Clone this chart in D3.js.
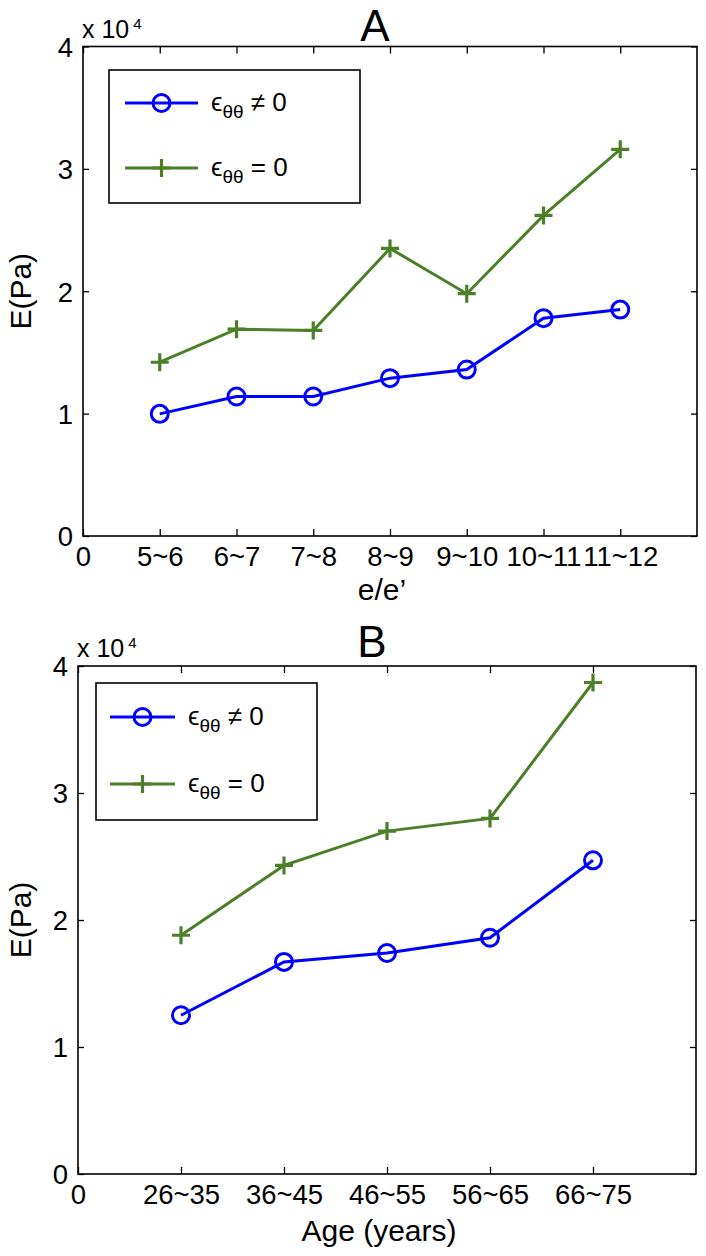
<!DOCTYPE html>
<html><head><meta charset="utf-8">
<script src="https://cdn.jsdelivr.net/npm/d3@7"></script>
<style>body{margin:0;background:#fff}svg text{font-family:"Liberation Sans",Arial,sans-serif;fill:#000}</style>
</head><body>
<svg id="chart" width="706" height="1256"></svg>
<script>
// ---- data (E in Pa) ----
const catsA = ["5~6","6~7","7~8","8~9","9~10","10~11","11~12"];
const nonZeroA = [9980, 11400, 11400, 12900, 13600, 17800, 18500];
const zeroA    = [14200, 16900, 16800, 23500, 19800, 26200, 31600];
const catsB = ["26~35","36~45","46~55","56~65","66~75"];
const nonZeroB = [12500, 16700, 17400, 18600, 24700];
const zeroB    = [18800, 24300, 27000, 28000, 38700];
const yTickVals = [0, 10000, 20000, 30000, 40000];
const seriesNames = ["≠ 0", "= 0"];
const titles = ["A", "B"];
const xLabels = ["e/e\u2019", "Age (years)"];

const BLUE = "#0000ff", GREEN = "#4b7f28";
const svg = d3.select("#chart");
svg.append("rect").attr("width",706).attr("height",1256).attr("fill","#fff");

const panels = [
  {cats: catsA, s1: nonZeroA, s2: zeroA, title: titles[0], xlab: xLabels[0],
   L:83, R:697, T:46.5, B:536, titleY:41, expY:38, xlabY:600,
   leg:{x:109, y:70, w:251, h:133, r1:103, r2:168, l0:125, l1:198, tx:211}},
  {cats: catsB, s1: nonZeroB, s2: zeroB, title: titles[1], xlab: xLabels[1],
   L:78, R:696, T:666, B:1174, titleY:657, expY:657, xlabY:1241,
   leg:{x:96, y:683, w:221, h:137, r1:717, r2:784, l0:110, l1:175, tx:188}}
];

function circleMarker(g, x, y){
  g.append("circle").attr("cx",x).attr("cy",y).attr("r",8.5)
   .attr("fill","none").attr("stroke",BLUE).attr("stroke-width",3);
}
function plusMarker(g, x, y){
  const s = 9;
  g.append("path").attr("d",`M${x-s},${y}H${x+s}M${x},${y-s}V${y+s}`)
   .attr("stroke",GREEN).attr("stroke-width",3.2).attr("fill","none");
}

panels.forEach(p => {
  const n = p.cats.length;
  const x = d3.scaleLinear().domain([0, n+1]).range([p.L, p.R]);
  const y = d3.scaleLinear().domain([0, 40000]).range([p.B, p.T]);
  const g = svg.append("g");
  const xt = d3.range(0, n+1);
  const fmtX = i => i === 0 ? "0" : p.cats[i-1];

  // axes: ticks inward
  const ax = g.append("g").attr("transform",`translate(0,${p.B})`)
    .call(d3.axisBottom(x).tickValues(xt).tickFormat(fmtX).tickSize(-7).tickPadding(0).tickSizeOuter(0));
  ax.selectAll("text").attr("dy", null).attr("y", 30).style("font-size","27.5px");
  const axt = g.append("g").attr("transform",`translate(0,${p.T})`)
    .call(d3.axisTop(x).tickValues(xt).tickFormat("").tickSize(-7).tickSizeOuter(0));
  const ay = g.append("g").attr("transform",`translate(${p.L},0)`)
    .call(d3.axisLeft(y).tickValues(yTickVals).tickFormat(d => d/10000).tickSize(-6).tickPadding(10).tickSizeOuter(0));
  ay.selectAll("text").attr("x", -10).attr("dy","0.36em").style("font-size","27.5px");
  const ayr = g.append("g").attr("transform",`translate(${p.R},0)`)
    .call(d3.axisRight(y).tickValues(yTickVals).tickFormat("").tickSize(-6).tickSizeOuter(0));
  [ax, axt, ay, ayr].forEach(a => {
    a.select(".domain").remove();
    a.selectAll("line").attr("stroke","#000").attr("stroke-width",1.3);
  });
  g.append("rect").attr("x",p.L).attr("y",p.T).attr("width",p.R-p.L).attr("height",p.B-p.T)
    .attr("fill","none").attr("stroke","#000").attr("stroke-width",1.6);

  // exponent
  const ex = g.append("text").attr("x", p.L - 1).attr("y", p.expY).style("font-size","25px");
  ex.append("tspan").text("x 10");
  ex.append("tspan").attr("dy",-9).attr("dx",4).style("font-size","15px").text("4");

  // title
  g.append("text").attr("x", (p.L+p.R)/2 - 15).attr("y", p.titleY).attr("text-anchor","middle")
    .style("font-size","44px").text(p.title);

  // axis labels
  g.append("text").attr("x",(p.L+p.R)/2 - 8).attr("y", p.xlabY)
    .attr("text-anchor","middle").style("font-size","30px").text(p.xlab);
  g.append("text").attr("transform",`translate(31,${(p.T+p.B)/2}) rotate(-90)`)
    .attr("text-anchor","middle").style("font-size","30px").text("E(Pa)");

  // lines
  const line = d3.line().x((d,i)=>x(i+1)).y(d=>y(d));
  g.append("path").datum(p.s2).attr("d",line).attr("fill","none").attr("stroke",GREEN).attr("stroke-width",3);
  g.append("path").datum(p.s1).attr("d",line).attr("fill","none").attr("stroke",BLUE).attr("stroke-width",3);
  p.s2.forEach((d,i)=>plusMarker(g, x(i+1), y(d)));
  p.s1.forEach((d,i)=>circleMarker(g, x(i+1), y(d)));

  // legend
  const l = p.leg;
  g.append("rect").attr("x",l.x).attr("y",l.y).attr("width",l.w).attr("height",l.h)
    .attr("fill","#fff").attr("stroke","#000").attr("stroke-width",1.6);
  const mid = (l.l0+l.l1)/2;
  [[l.r1, BLUE, seriesNames[0], circleMarker],[l.r2, GREEN, seriesNames[1], plusMarker]].forEach(([ry,c,nm,mk])=>{
    g.append("line").attr("x1",l.l0).attr("x2",l.l1).attr("y1",ry).attr("y2",ry)
      .attr("stroke",c).attr("stroke-width",3);
    mk(g, mid, ry);
    const t = g.append("text").attr("x",l.tx).attr("y",ry+8).style("font-size","26px");
    t.append("tspan").text("\u03f5");
    t.append("tspan").attr("dy",7).style("font-size","19px").text("\u03b8\u03b8");
    t.append("tspan").attr("dy",-7).text(" " + nm);
  });
});
</script>
</body></html>
